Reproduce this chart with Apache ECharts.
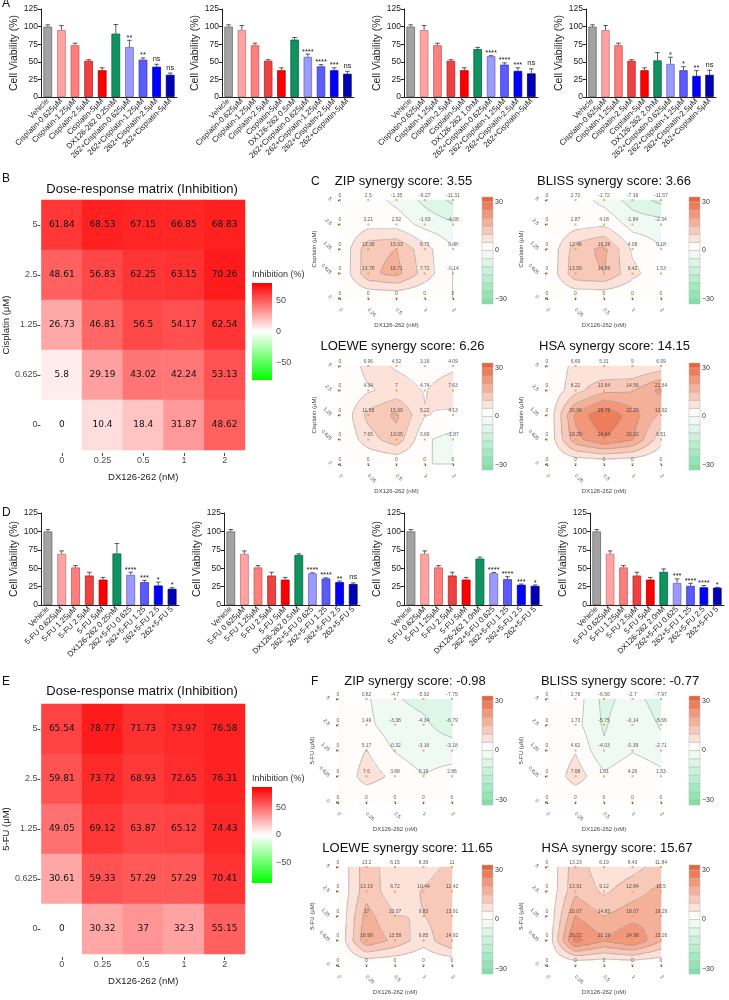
<!DOCTYPE html>
<html><head><meta charset="utf-8">
<script src="https://cdn.jsdelivr.net/npm/echarts@6.0.0/dist/echarts.min.js"></script>
<style>html,body{margin:0;padding:0;background:#fff}#c{width:729px;height:1000px}</style>
</head><body><div id="c"></div>
<script>
// ---------------- DATA ----------------
const catsCis = ['Vehicle','Cisplatin-0.625μM','Cisplatin-1.25μM','Cisplatin-2.5μM','Cisplatin-5μM','DX','262+Cisplatin-0.625μM','262+Cisplatin-1.25μM','262+Cisplatin-2.5μM','262+Cisplatin-5μM'];
const catsFU = ['Vehicle','5-FU 0.625μM','5-FU 1.25μM','5-FU 2.5μM','5-FU 5μM','DX','262+5-FU 0.625','262+5-FU 1.25','262+5-FU 2.5','262+5-FU 5'];
const dxLabels = ['DX126-262 0.25nM','DX126-262 0.5nM','DX126-262 1.0nM','DX126-262 2.0nM'];

const viabA = [
  [100, 95, 73.5, 51.5, 38, 90, 71, 53, 43, 31.5],
  [100, 95, 73.5, 51.5, 38, 81.5, 57, 43.5, 38, 33],
  [100, 95, 73.5, 51.5, 38, 68, 58, 46, 37, 33.5],
  [100, 95, 73.5, 51.5, 38, 52, 47, 38, 30, 31.5]
];
const errA = [
  [2.5, 6.5, 3, 1.5, 3.5, 13, 9.5, 2.5, 3.5, 2.5],
  [2.5, 6.5, 3, 1.5, 3.5, 3, 4, 2.5, 3.5, 3.5],
  [2.5, 6.5, 3, 1.5, 3.5, 2.5, 0.7, 2.5, 4.5, 6.5],
  [2.5, 6.5, 3, 1.5, 3.5, 11, 9.5, 5, 7.5, 6.5]
];
const sigA = [
  ['','','','','','','**','**','ns','ns'],
  ['','','','','','','****','****','***','ns'],
  ['','','','','','','****','****','***','ns'],
  ['','','','','','','*','*','**','ns']
];
const viabD = [
  [100, 69.5, 51, 40, 34.5, 70, 41, 31, 26.5, 22],
  [100, 69.5, 51, 40, 34.5, 68, 43, 36, 31, 28.5],
  [100, 69.5, 51, 40, 34.5, 63, 43, 35, 27.5, 26],
  [100, 69.5, 51, 40, 34.5, 45, 30, 26, 24, 23.5]
];
const errD = [
  [2.5, 4, 2.5, 4.5, 3, 13.5, 3.5, 2.5, 4.5, 1.5],
  [2.5, 4, 2.5, 4.5, 3, 1.5, 0.8, 1, 1.5, 1.5],
  [2.5, 4, 2.5, 4.5, 3, 2, 1.2, 3.5, 1, 1.2],
  [2.5, 4, 2.5, 4.5, 3, 4, 5.5, 3.5, 2.5, 0.5]
];
const sigD = [
  ['','','','','','','****','***','*','*'],
  ['','','','','','','****','****','**','ns'],
  ['','','','','','','****','****','***','*'],
  ['','','','','','','***','****','****','*']
];

const doseDX = ['0','0.25','0.5','1','2'];
const doseCis = ['0','0.625','1.25','2.5','5'];   // bottom -> top
const doseFU = ['0','0.625','1.25','2.5','5'];

// inhibition matrices, rows top (5) -> bottom (0)
const inhibB = [
  [61.84, 68.53, 67.15, 66.85, 68.83],
  [48.61, 56.83, 62.25, 63.15, 70.26],
  [26.73, 46.81, 56.5, 54.17, 62.54],
  [5.8, 29.19, 43.02, 42.24, 53.13],
  [0, 10.4, 18.4, 31.87, 48.62]
];
const inhibE = [
  [65.54, 78.77, 71.73, 73.97, 76.58],
  [59.81, 73.72, 68.93, 72.65, 76.31],
  [49.05, 69.12, 63.87, 65.12, 74.43],
  [30.61, 59.33, 57.29, 57.29, 70.41],
  [0, 30.32, 37, 32.3, 55.15]
];
const colorbarTicks = [-50, 0, 50];

// synergy matrices, rows top (5) -> bottom (0)
const zipC = [[0,2.5,-1.35,-6.27,-11.31],[0,3.21,2.92,-1.63,-4.08],[0,13.36,15.03,6.75,0.48],[0,13.78,16.71,7.72,-0.14],[0,0,0,0,0]];
const blissC = [[0,2.72,-1.72,-7.16,-11.57],[0,2.87,4.18,-1.84,-2.34],[0,12.46,16.28,4.08,0.18],[0,13.59,14.89,6.42,1.53],[0,0,0,0,0]];
const loeweC = [[0,6.96,4.52,3.16,4.09],[0,4.34,7,4.74,7.63],[0,11.58,15.99,5.22,4.13],[0,7.65,13.05,0.69,-1.87],[0,0,0,0,0]];
const hsaC = [[0,6.69,5.31,5,6.99],[0,8.22,13.64,14.56,21.64],[0,20.98,29.76,22.29,13.92],[0,18.29,24.64,20.32,6.51],[0,0,0,0,0]];
const zipF = [[0,0.82,-4.7,-5.92,-7.75],[0,1.49,-3.38,-4.34,-6.79],[0,5.17,-0.32,-3.16,-3.18],[0,7.6,3.68,0.19,2.86],[0,0,0,0,0]];
const blissF = [[0,2.78,-6.56,-2.7,-7.97],[0,1.73,-5.75,-0.14,-5.66],[0,4.62,-4.03,-0.39,-2.71],[0,7.68,1.01,4.26,1.53],[0,0,0,0,0]];
const loeweF = [[0,13.2,6.15,8.39,11],[0,13.19,6.72,10.44,12.42],[0,17,10.07,9.83,13.91],[0,18.99,13.58,6.85,14.92],[0,0,0,0,0]];
const hsaF = [[0,13.23,6.19,8.43,11.84],[0,13.91,9.12,12.84,16.5],[0,20.07,14.82,18.07,19.29],[0,26.72,20.29,24.98,15.26],[0,0,0,0,0]];
const synergyScores = { zipC: '3.55', blissC: '3.66', loeweC: '6.26', hsaC: '14.15', zipF: '-0.98', blissF: '-0.77', loeweF: '11.65', hsaF: '15.67' };
const synergyTicks = [-30, 0, 30];
const levelStep = 5;
const cbEdges = [-33,-30,-25,-20,-15,-10,-5,0,5,10,15,20,25,30,33];

// ---------------- STYLE / LAYOUT ----------------
const fontA = "'Liberation Sans', Arial, sans-serif";
const fontH = "'DejaVu Sans', Verdana, sans-serif";
const barColors = ['#a3a3a3','#ffa3a3','#ff7f7f','#f04141','#ff0000','#0f9461','#9b9bff','#5b5bff','#0000ff','#0000b4'];
const barBorders = ['#6a6a6a','#c87878','#c85858','#b02828','#b00000','#086040','#6a6ac0','#3a3ab8','#0000b0','#000070'];
const POS = ['#fffdfc','#fce2d8','#f8c9b8','#f5b099','#f2977a','#ee7e5b','#e8643d'];
const NEG = ['#f0faf4','#ddf6e7','#caf2da','#b7eecd','#a4eac0','#91e6b3','#7ee2a6'];
function levelColor(v){ const k = Math.floor(v/levelStep + 1e-9); if (k >= 0) return POS[Math.min(k,6)]; return NEG[Math.min(-k-1,6)]; }
function minusFmt(v){ return v < 0 ? '\u2212' + Math.abs(v) : String(v); }

const grids = [], xAxes = [], yAxes = [], series = [], titles = [], visualMaps = [];
function addGrid(b){ grids.push({left:b.l, top:b.t, width:b.w, height:b.h, containLabel:false}); return grids.length-1; }
function addTitle(text, x, y, size, align, extra){
  titles.push(Object.assign({text, left:x, top:y, textAlign:align||'left', padding:0, itemGap:0,
    textStyle:{fontSize:size, fontWeight:'normal', color:'#111', fontFamily:fontA}}, extra||{}));
}

// ---- bar charts ----
function errRender(sigs){
  return function(params, api){
    const i = api.value(0), v = api.value(1), e = api.value(2);
    const p0 = api.coord([i, v]), p1 = api.coord([i, v + e]);
    const cap = 2.3;
    const ch = [
      {type:'line', shape:{x1:p0[0], y1:p0[1], x2:p1[0], y2:p1[1]}, style:{stroke:'#333', lineWidth:0.8}},
      {type:'line', shape:{x1:p1[0]-cap, y1:p1[1], x2:p1[0]+cap, y2:p1[1]}, style:{stroke:'#333', lineWidth:0.8}}
    ];
    const s = sigs[params.dataIndex];
    if (s) ch.push({type:'text', x:p1[0], y:p1[1] - (s === 'ns' ? 1.5 : -1.5), style:{text:s, fontSize:7.5, fill:'#222', align:'center', verticalAlign:'bottom', fontFamily:fontA}});
    return {type:'group', children:ch};
  };
}
function barChart(box, cats, vals, errs, sigs){
  const gi = addGrid(box);
  xAxes.push({gridIndex:gi, type:'category', data:cats,
    axisLine:{lineStyle:{color:'#222', width:1}},
    axisTick:{alignWithLabel:true, length:3, lineStyle:{color:'#222'}},
    axisLabel:{rotate:45, fontSize:7.8, color:'#222', margin:3, fontFamily:fontA, interval:0}});
  const xi = xAxes.length-1;
  yAxes.push({gridIndex:gi, type:'value', min:0, max:125, interval:25,
    name:'Cell Viability (%)', nameLocation:'middle', nameGap:21,
    nameTextStyle:{fontSize:10.5, color:'#222', fontFamily:fontA},
    axisLine:{show:true, lineStyle:{color:'#222'}}, axisTick:{show:true, length:3, lineStyle:{color:'#222'}},
    axisLabel:{fontSize:8.5, color:'#222', margin:3, fontFamily:fontA}, splitLine:{show:false}});
  const yi = yAxes.length-1;
  series.push({type:'bar', xAxisIndex:xi, yAxisIndex:yi, barWidth:'64%', silent:true, animation:false,
    data: vals.map((v,i)=>({value:v, itemStyle:{color:barColors[i], borderColor:barBorders[i], borderWidth:0.8}}))});
  series.push({type:'custom', xAxisIndex:xi, yAxisIndex:yi, silent:true, animation:false,
    data: vals.map((v,i)=>[i, v, errs[i]]), renderItem: errRender(sigs)});
}
const boxA = [{l:41,t:9,w:136,h:88},{l:222,t:9,w:132,h:88},{l:404,t:9,w:134,h:88},{l:586,t:9,w:130,h:88}];
const boxD = [{l:41,t:513,w:138,h:92},{l:224,t:513,w:136,h:92},{l:404,t:513,w:138,h:92},{l:590,t:513,w:134,h:92}];
for (let k=0;k<4;k++){
  barChart(boxA[k], catsCis.map(c => c==='DX' ? dxLabels[k] : c), viabA[k], errA[k], sigA[k]);
  barChart(boxD[k], catsFU.map(c => c==='DX' ? dxLabels[k] : c), viabD[k], errD[k], sigD[k]);
}

// ---- heatmaps ----
function heatPanel(box, cb, M, yName, vmax){
  const gi = addGrid(box);
  xAxes.push({gridIndex:gi, type:'category', data:doseDX, offset:3,
    axisLine:{show:false}, axisTick:{show:true, alignWithLabel:true, length:3, lineStyle:{color:'#4d4d4d'}},
    axisLabel:{fontSize:9, color:'#4d4d4d', margin:3, fontFamily:fontA},
    name:'DX126-262 (nM)', nameLocation:'middle', nameGap:19, nameTextStyle:{fontSize:9.5, color:'#222', fontFamily:fontA}});
  const xi = xAxes.length-1;
  yAxes.push({gridIndex:gi, type:'category', data:doseCis, offset:1,
    axisLine:{show:false}, axisTick:{show:true, alignWithLabel:true, length:3, lineStyle:{color:'#4d4d4d'}},
    axisLabel:{fontSize:9, color:'#4d4d4d', margin:3, fontFamily:fontA},
    name:yName, nameLocation:'middle', nameGap:26, nameTextStyle:{fontSize:9.5, color:'#222', fontFamily:fontA}});
  const yi = yAxes.length-1;
  const data = [];
  M.forEach((row, r) => row.forEach((v, c) => data.push([c, M.length-1-r, v])));
  series.push({type:'heatmap', xAxisIndex:xi, yAxisIndex:yi, data, silent:true, animation:false,
    label:{show:true, formatter:p=>String(p.value[2]), fontSize:9, color:'#111', fontFamily:fontH},
    itemStyle:{borderWidth:0}});
  visualMaps.push({type:'continuous', show:false, seriesIndex:series.length-1, dimension:2, min:-vmax, max:vmax,
    inRange:{color:['#00ff00','#ffffff','#ff0000']}});
  // colour bar
  const gc = addGrid(cb);
  xAxes.push({gridIndex:gc, type:'value', min:0, max:1, show:false});
  yAxes.push({gridIndex:gc, type:'value', min:-vmax, max:vmax, position:'right',
    axisLine:{show:false}, axisTick:{show:false}, splitLine:{show:false},
    axisLabel:{customValues:colorbarTicks, fontSize:9, color:'#4d4d4d', margin:4, fontFamily:fontA, formatter:minusFmt}});
  series.push({type:'custom', xAxisIndex:xAxes.length-1, yAxisIndex:yAxes.length-1, silent:true, animation:false,
    data:[[0, -vmax, vmax]], encode:{x:0, y:[1,2]},
    renderItem:(params, api)=>{
      const a = api.coord([0, api.value(2)]), b = api.coord([1, api.value(1)]);
      return {type:'rect', shape:{x:a[0], y:a[1], width:b[0]-a[0], height:b[1]-a[1]},
        style:{fill:new echarts.graphic.LinearGradient(0,0,0,1,[{offset:0,color:'#ff0000'},{offset:0.5,color:'#ffffff'},{offset:1,color:'#00ff00'}])}};
    }});
  addTitle('Inhibition (%)', cb.l, cb.t - 13, 9, 'left', {textStyle:{fontSize:9, fontWeight:'normal', color:'#333', fontFamily:fontA}});
}
heatPanel({l:37,t:200,w:208,h:250}, {l:252,t:283,w:20,h:97}, inhibB, 'Cisplatin (μM)', 78.7);
heatPanel({l:39,t:704,w:206,h:250}, {l:252,t:787,w:20,h:96}, inhibE, '5-FU (μM)', 88.2);

// ---- contour synergy maps ----
const LEVELS = [];
for (let L = -30; L <= 30; L += levelStep) LEVELS.push(L);
function contourRender(mode){
  return function(params, api){
    const c = api.value(0), r = api.value(1);
    const a = api.value(2), b = api.value(3), d = api.value(4), e = api.value(5);
    const p0 = api.coord([c, r]), p1 = api.coord([c+1, r+1]);
    const N = 16, dx = (p1[0]-p0[0])/N, dy = (p1[1]-p0[1])/N;
    const f = (u,t) => a*(1-u)*(1-t) + b*u*(1-t) + d*(1-u)*t + e*u*t;
    if (mode === 'fill'){
      const paths = {};
      for (let j=0;j<N;j++) for (let i=0;i<N;i++){
        const col = levelColor(f((i+0.5)/N, (j+0.5)/N));
        const x = p0[0] + i*dx - 0.3, y = p0[1] + (j+1)*dy - 0.3;
        const w = dx + 0.6, h = -dy + 0.6;
        paths[col] = (paths[col]||'') + 'M'+x.toFixed(2)+' '+y.toFixed(2)+'h'+w.toFixed(2)+'v'+h.toFixed(2)+'h'+(-w).toFixed(2)+'Z';
      }
      return {type:'group', children:Object.keys(paths).map(col=>({type:'path', shape:{pathData:paths[col]}, style:{fill:col}}))};
    }
    const V = [];
    for (let j=0;j<=N;j++){ V[j]=[]; for (let i=0;i<=N;i++) V[j][i] = f(i/N, j/N); }
    const X = i => p0[0] + i*dx, Y = j => p0[1] + j*dy;
    let pd = '';
    for (const L of LEVELS){
      for (let j=0;j<N;j++) for (let i=0;i<N;i++){
        const q = [V[j][i], V[j][i+1], V[j+1][i+1], V[j+1][i]];
        const P = [[i,j],[i+1,j],[i+1,j+1],[i,j+1]];
        const pts = [];
        for (let k=0;k<4;k++){
          const k2 = (k+1)%4;
          if ((q[k] >= L) !== (q[k2] >= L)){
            const t = (L - q[k])/(q[k2] - q[k]);
            pts.push([X(P[k][0] + (P[k2][0]-P[k][0])*t), Y(P[k][1] + (P[k2][1]-P[k][1])*t)]);
          }
        }
        if (pts.length >= 2) pd += 'M'+pts[0][0].toFixed(2)+' '+pts[0][1].toFixed(2)+'L'+pts[1][0].toFixed(2)+' '+pts[1][1].toFixed(2);
        if (pts.length === 4) pd += 'M'+pts[2][0].toFixed(2)+' '+pts[2][1].toFixed(2)+'L'+pts[3][0].toFixed(2)+' '+pts[3][1].toFixed(2);
      }
    }
    if (!pd) return {type:'group', children:[]};
    return {type:'path', shape:{pathData:pd}, style:{fill:'none', stroke:'#8a8a8a', lineWidth:0.5}};
  };
}
function contourPanel(box, cb, M, yName, yDoses, title, tx, ty){
  const rows = M.slice().reverse(); // rows[0] = dose 0
  const gi = addGrid(box);
  xAxes.push({gridIndex:gi, type:'value', min:0, max:4, interval:1, offset:9,
    axisLine:{show:false}, axisTick:{show:true, length:2, lineStyle:{color:'#444', width:1.3}},
    axisLabel:{rotate:-45, fontSize:5, color:'#555', margin:2, fontFamily:fontA, formatter:v=>doseDX[v]},
    splitLine:{show:false},
    name:'DX126-262 (nM)', nameLocation:'middle', nameGap:15, nameTextStyle:{fontSize:6, color:'#444', fontFamily:fontA}});
  const xi = xAxes.length-1;
  yAxes.push({gridIndex:gi, type:'value', min:0, max:4, interval:1, offset:7,
    axisLine:{show:false}, axisTick:{show:true, length:2, lineStyle:{color:'#444', width:1.3}},
    axisLabel:{rotate:-45, fontSize:5, color:'#555', margin:2, fontFamily:fontA, formatter:v=>yDoses[v]},
    splitLine:{show:false},
    name:yName, nameLocation:'middle', nameGap:12, nameTextStyle:{fontSize:6, color:'#444', fontFamily:fontA}});
  const yi = yAxes.length-1;
  const cells = [];
  for (let r=0;r<4;r++) for (let c=0;c<4;c++) cells.push([c, r, rows[r][c], rows[r][c+1], rows[r+1][c], rows[r+1][c+1]]);
  series.push({type:'custom', xAxisIndex:xi, yAxisIndex:yi, data:cells, silent:true, animation:false, renderItem:contourRender('fill')});
  series.push({type:'custom', xAxisIndex:xi, yAxisIndex:yi, data:cells, silent:true, animation:false, renderItem:contourRender('line')});
  const pts = [];
  rows.forEach((row, r) => row.forEach((v, c) => pts.push([c, r, v])));
  series.push({type:'scatter', xAxisIndex:xi, yAxisIndex:yi, data:pts, symbol:'rect', symbolSize:2, silent:true, animation:false,
    itemStyle:{color:'#f29a35'},
    label:{show:true, position:'top', distance:1, fontSize:5, color:'#333', fontFamily:fontA, formatter:p=>String(p.value[2])}});
  // colour bar
  const gc = addGrid(cb);
  xAxes.push({gridIndex:gc, type:'value', min:0, max:1, show:false});
  yAxes.push({gridIndex:gc, type:'value', min:cbEdges[0], max:cbEdges[cbEdges.length-1], position:'right',
    axisLine:{show:false}, axisTick:{show:false}, splitLine:{show:false},
    axisLabel:{customValues:synergyTicks, fontSize:7, color:'#333', margin:2, fontFamily:fontA, formatter:minusFmt}});
  series.push({type:'custom', xAxisIndex:xAxes.length-1, yAxisIndex:yAxes.length-1, silent:true, animation:false,
    data: cbEdges.slice(0,-1).map((lo,i)=>[0, lo, cbEdges[i+1]]), encode:{x:0, y:[1,2]},
    renderItem:(params, api)=>{
      const lo = api.value(1), hi = api.value(2);
      const a = api.coord([0, hi]), b = api.coord([1, lo]);
      return {type:'rect', shape:{x:a[0], y:a[1], width:b[0]-a[0], height:b[1]-a[1]},
        style:{fill:levelColor((lo+hi)/2), stroke:'#b5b5b5', lineWidth:0.5}};
    }});
  addTitle(title, tx, ty - 7, 13, 'center');
}
contourPanel({l:340,t:200,w:113,h:98}, {l:482,t:197,w:11,h:107}, zipC, 'Cisplatin (μM)', doseCis, 'ZIP synergy score: '+synergyScores.zipC, 403.5, 182);
contourPanel({l:547,t:200,w:114,h:98}, {l:689,t:197,w:11,h:107}, blissC, 'Cisplatin (μM)', doseCis, 'BLISS synergy score: '+synergyScores.blissC, 614, 182);
contourPanel({l:340,t:366,w:113,h:98}, {l:482,t:363,w:11,h:107}, loeweC, 'Cisplatin (μM)', doseCis, 'LOEWE synergy score: '+synergyScores.loeweC, 402.5, 347);
contourPanel({l:547,t:366,w:114,h:98}, {l:689,t:363,w:11,h:107}, hsaC, 'Cisplatin (μM)', doseCis, 'HSA synergy score: '+synergyScores.hsaC, 614.5, 347);
contourPanel({l:338,t:699,w:114,h:103}, {l:482,t:696,w:11,h:109}, zipF, '5-FU (μM)', doseFU, 'ZIP synergy score: '+synergyScores.zipF, 415, 682);
contourPanel({l:547,t:699,w:114,h:103}, {l:689,t:696,w:11,h:109}, blissF, '5-FU (μM)', doseFU, 'BLISS synergy score: '+synergyScores.blissF, 620, 682);
contourPanel({l:338,t:867,w:114,h:98}, {l:482,t:865,w:11,h:109}, loeweF, '5-FU (μM)', doseFU, 'LOEWE synergy score: '+synergyScores.loeweF, 407.5, 849);
contourPanel({l:547,t:867,w:114,h:98}, {l:689,t:865,w:11,h:109}, hsaF, '5-FU (μM)', doseFU, 'HSA synergy score: '+synergyScores.hsaF, 617, 849);

// ---- titles / panel letters ----
addTitle('Dose-response matrix (Inhibition)', 142, 183, 13, 'center');
addTitle('Dose-response matrix (Inhibition)', 142, 685, 13, 'center');
addTitle('A', 2, -2, 12); addTitle('B', 2, 173, 12); addTitle('C', 311, 176, 12);
addTitle('D', 2, 507, 12); addTitle('E', 2, 676, 12); addTitle('F', 311, 676, 12);

const chart = echarts.init(document.getElementById('c'), null, {renderer:'canvas', width:729, height:1000});
chart.setOption({
  backgroundColor:'#ffffff', animation:false,
  textStyle:{fontFamily:fontA},
  title:titles, grid:grids, xAxis:xAxes, yAxis:yAxes, visualMap:visualMaps, series:series
});
</script></body></html>
